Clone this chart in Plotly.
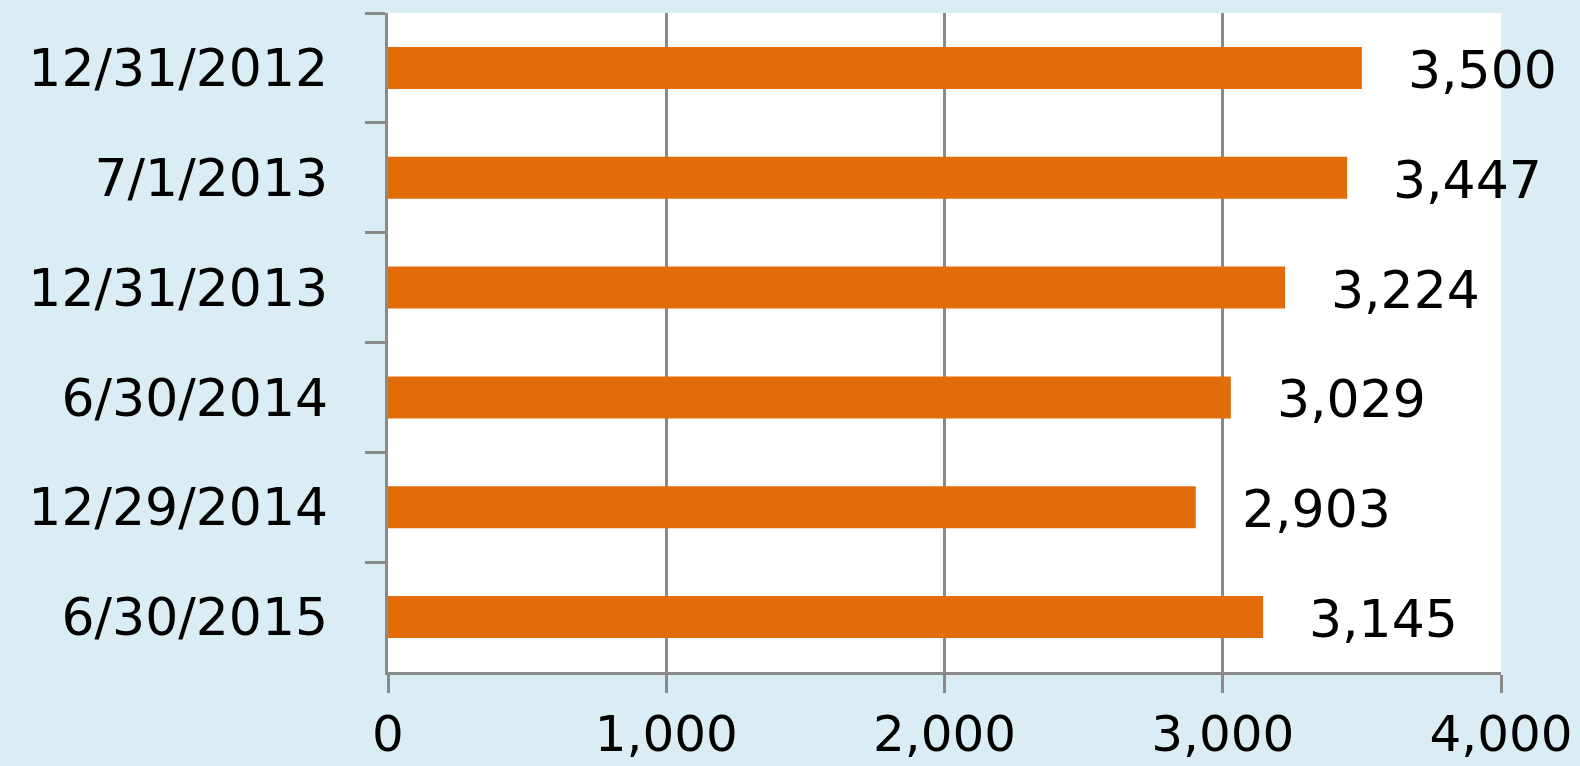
import plotly.graph_objects as go

categories = ["12/31/2012", "7/1/2013", "12/31/2013", "6/30/2014", "12/29/2014", "6/30/2015"]
values = [3500, 3447, 3224, 3029, 2903, 3145]
x_ticks = [0, 1000, 2000, 3000, 4000]
x_tick_labels = ["0", "1,000", "2,000", "3,000", "4,000"]

FONT = dict(family="DejaVu Sans, Verdana, sans-serif", size=52, color="#000000")
XFONT = dict(family="DejaVu Sans, Verdana, sans-serif", size=50, color="#000000")
GRID = "#8A8A8A"

fig = go.Figure()
fig.add_trace(go.Bar(
    y=categories, x=values, orientation="h",
    marker=dict(color="#E36C0A", line=dict(width=0)),
    hoverinfo="skip",
))

for c, v in zip(categories, values):
    fig.add_annotation(x=v, y=c, text=f"{v:,}", showarrow=False,
                       xanchor="left", yanchor="middle", xshift=44, yshift=-2,
                       font=FONT)

fig.update_layout(
    width=1580, height=766,
    margin=dict(l=388, r=79, t=13, b=94, autoexpand=False),
    paper_bgcolor="#DAEDF4", plot_bgcolor="#FFFFFF",
    bargap=0.617, showlegend=False,
    font=FONT,
)
fig.update_xaxes(
    range=[0, 4000], tickvals=x_ticks, ticktext=x_tick_labels,
    showgrid=True, gridcolor=GRID, gridwidth=3,
    showline=True, linecolor=GRID, linewidth=3,
    ticks="outside", ticklen=18, tickwidth=3, tickcolor=GRID,
    ticklabelstandoff=-2, zeroline=False, tickfont=XFONT, automargin=False,
)
fig.update_yaxes(
    autorange="reversed", type="category", tickson="boundaries",
    showgrid=False, showline=True, linecolor=GRID, linewidth=3,
    ticks="outside", ticklen=20, tickwidth=3, tickcolor=GRID,
    ticklabelstandoff=30, tickfont=FONT, ticksuffix=" ", automargin=False,
)
fig.write_html("out.html", config={"displayModeBar": False},
               post_script="document.body.style.margin='0';document.body.style.padding='0';")
